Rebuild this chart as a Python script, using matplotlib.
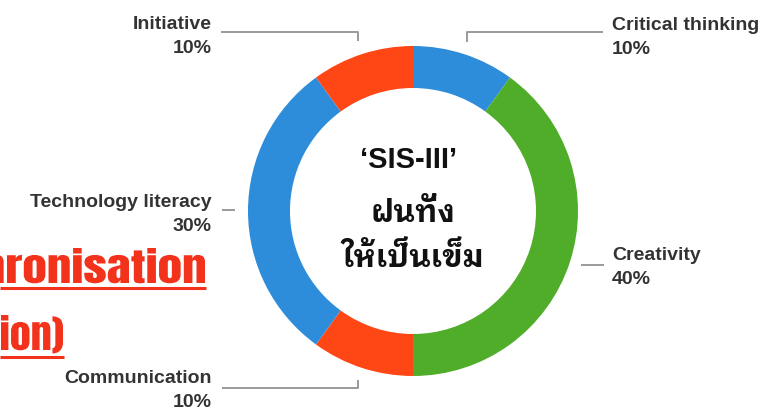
import matplotlib
matplotlib.use("Agg")
import matplotlib.pyplot as plt
from matplotlib.textpath import TextPath
from matplotlib.patches import PathPatch
from matplotlib.font_manager import FontProperties
from matplotlib.transforms import Affine2D

W, H = 769, 411

# skill shares, clockwise from 12 o'clock
skills = ["Critical thinking", "Creativity", "Communication", "Technology literacy", "Initiative"]
shares = [10, 40, 10, 30, 10]
colors = ["#2e8ddb", "#50ad2a", "#ff4716", "#2e8ddb", "#ff4716"]

center_title = "‘SIS-III’"
center_thai = ["ฝนทั่ง", "ให้เป็นเข็ม"]
side_lines = ["hronisation", "ion)"]

LABEL_FONT = "Liberation Sans"
THAI_FONT = ["IBM Plex Sans Thai Looped", "Noto Sans Thai Looped", "DejaVu Sans"]
GREY = "#9a9a9a"
TEXT = "#333333"
RED = "#f2321b"


def Y(y):
    # pixel rows counted from the top
    return H - y


fig = plt.figure(figsize=(W / 100, H / 100), dpi=100)
ax = fig.add_axes([0, 0, 1, 1])

cx, cy, r_out, ring = 413, 211, 165, 42
ax.pie(shares, colors=colors, startangle=90, counterclock=False,
       radius=r_out, center=(cx, Y(cy)),
       wedgeprops=dict(width=ring, linewidth=0))

ax.set_xlim(0, W)
ax.set_ylim(0, H)
ax.set_aspect("equal")
ax.axis("off")

# labels: x, align, first baseline, leader path
labels = {
    "Initiative": (212, "right", 29, [(221, 32), (358, 32), (358, 41)]),
    "Critical thinking": (612, "left", 30, [(603, 32), (467, 32), (467, 42)]),
    "Technology literacy": (212, "right", 207, [(222, 210), (235, 210)]),
    "Creativity": (612, "left", 260, [(604, 265), (581, 265)]),
    "Communication": (212, "right", 383, [(222, 388), (358, 388), (358, 380)]),
}

for name, val in zip(skills, shares):
    x, ha, base, path = labels[name]
    ax.text(x, Y(base), name, ha=ha, va="baseline", fontsize=14,
            family=LABEL_FONT, weight="bold", color=TEXT)
    ax.text(x, Y(base + 24), f"{val}%", ha=ha, va="baseline", fontsize=14,
            family=LABEL_FONT, weight="bold", color=TEXT)
    px, py = zip(*path)
    ax.plot(px, [Y(p) for p in py], color=GREY, lw=1.4, solid_capstyle="butt")

# centre caption
ax.text(cx - 4, Y(168), center_title, ha="center", va="baseline", fontsize=21,
        family=LABEL_FONT, weight="bold", color="#111111")
ax.text(cx, Y(222), center_thai[0], ha="center", va="baseline", fontsize=22,
        family=THAI_FONT, weight="bold", color="#111111")
ax.text(cx, Y(267), center_thai[1], ha="center", va="baseline", fontsize=22,
        family=THAI_FONT, weight="bold", color="#111111")

# red heading fragments on the left, underlined; outlines are scaled to
# the poster lettering (wider than Anton on the first line)
anton = FontProperties(family="Anton")
for txt, key, width, right, base, uline in [
        (side_lines[0], "ronisation", 198, 205, 283, 288),
        (side_lines[1], "ion)", 62, 63, 350, 357)]:
    probe = TextPath((0, 0), key, size=100, prop=anton).get_extents()
    sx = width / probe.width
    sy = 35 / probe.y1
    tp = TextPath((0, 0), txt, size=100, prop=anton)
    ext = tp.get_extents()
    tr = Affine2D().scale(sx, sy).translate(right - ext.x1 * sx, Y(base))
    ax.add_patch(PathPatch(tr.transform_path(tp), facecolor=RED, edgecolor="none"))
    ax.plot([0, right + 1], [Y(uline), Y(uline)], color=RED, lw=2.2,
            solid_capstyle="butt")

fig.savefig("out.png", dpi=100)
